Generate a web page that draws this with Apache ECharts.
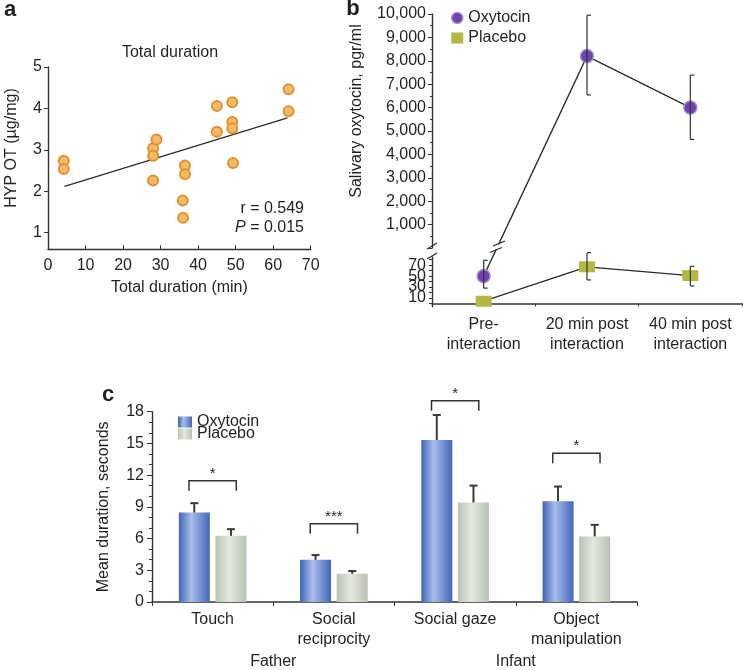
<!DOCTYPE html>
<html><head><meta charset="utf-8">
<script src="https://cdn.jsdelivr.net/npm/echarts@6/dist/echarts.min.js"></script>
<style>html,body{margin:0;padding:0;background:#fff}#c{width:743px;height:670px}</style>
</head><body><div id="c"></div>
<script>
// ---------- Panel a ----------
const scatterX = [4.2,4.2,28.0,28.0,28.9,28.0,36.5,36.5,35.9,36.0,45.0,45.0,49.1,49.1,49.1,49.3,64.1,64.1];
const scatterY = [2.74,2.54,3.04,2.86,3.25,2.26,2.62,2.41,1.78,1.36,4.06,3.44,4.15,3.67,3.52,2.68,4.46,3.93];
const fitX = [4.4, 63.8];
const fitY = [2.12, 3.77];
const aYLabels = [1,2,3,4,5];

// ---------- Panel b ----------
const bCategories = ['Pre-\ninteraction','20 min post\ninteraction','40 min post\ninteraction'];
const oxyHigh = ['-', 8200, 6000];
const oxyHighErrLow = ['-', 6540, 4640];
const oxyHighErrHigh = ['-', 9950, 7390];
const oxyLow = [50, '-', '-'];
const oxyLowErrLow = [28, '-', '-'];
const oxyLowErrHigh = [79, '-', '-'];
const placebo = [4, 67, 51];
const placeboErrLow = ['-', 43, 32];
const placeboErrHigh = ['-', 93, 68];
const bLowLabelsA = [10, 50];
const bLowLabelsB = [30, 70];
const bLowTicks = [0,10,20,30,40,50,60,70,80];

// ---------- Panel c ----------
const cCategories = ['Touch','Social\nreciprocity','Social gaze','Object\nmanipulation'];
const cGroups = ['Father','Infant'];
const oxyBars = [8.46, 3.99, 15.33, 9.54];
const oxyErr = [9.35, 4.44, 17.69, 10.92];
const placeboBars = [6.26, 2.67, 9.41, 6.2];
const placeboErr = [6.89, 2.93, 11.01, 7.3];
const sigY = [11.48, 7.39, 19.04, 14.07];
const sigLabels = ['*','***','*','*'];

const F = "'Liberation Sans', Arial, Helvetica, sans-serif";
const TXT = '#231f20';
const AX = '#333333';
const chart = echarts.init(document.getElementById('c'));

const lbl = (extra) => Object.assign({color: TXT, fontFamily: F, fontSize: 16}, extra || {});
const line = (w) => ({show: true, lineStyle: {color: AX, width: w || 1.4}});

const oxyGrad = new echarts.graphic.LinearGradient(0,0,1,0,[
  {offset:0,color:'#3f63b8'},{offset:0.4,color:'#a9bde8'},{offset:1,color:'#4466ba'}]);
const plaGrad = new echarts.graphic.LinearGradient(0,0,1,0,[
  {offset:0,color:'#b9c4b5'},{offset:0.45,color:'#e3e8e0'},{offset:1,color:'#b7c2b3'}]);

function errRight(params, api) {
  const x = api.value(0);
  const lo = api.coord([x, api.value(1)]);
  const hi = api.coord([x, api.value(2)]);
  const s = {stroke: '#333', lineWidth: 1.2};
  return {type: 'group', children: [
    {type:'line', shape:{x1:lo[0],y1:lo[1],x2:hi[0],y2:hi[1]}, style:s},
    {type:'line', shape:{x1:hi[0],y1:hi[1],x2:hi[0]+4,y2:hi[1]}, style:s},
    {type:'line', shape:{x1:lo[0],y1:lo[1],x2:lo[0]+4,y2:lo[1]}, style:s}
  ]};
}
function errT(sign) {
  return function(params, api) {
    const x = api.value(0);
    const w = api.size([1,0])[0];
    const off = sign * w * 0.1513;
    const b = api.coord([x, api.value(1)]);
    const t = api.coord([x, api.value(2)]);
    const s = {stroke: '#3a3a3a', lineWidth: 2};
    return {type:'group', children:[
      {type:'line', shape:{x1:b[0]+off,y1:b[1],x2:t[0]+off,y2:t[1]}, style:s},
      {type:'line', shape:{x1:t[0]+off-4,y1:t[1],x2:t[0]+off+4,y2:t[1]}, style:s}
    ]};
  };
}
function sigRender(params, api) {
  const x = api.value(0);
  const w = api.size([1,0])[0];
  const c = api.coord([x, api.value(1)]);
  const x1 = c[0] - w*0.195, x2 = c[0] + w*0.195, y = c[1];
  const s = {stroke:'#333', lineWidth:1.5, fill:null};
  return {type:'group', children:[
    {type:'polyline', shape:{points:[[x1,y+10],[x1,y],[x2,y],[x2,y+10]]}, style:s},
    {type:'text', x:(x1+x2)/2, y:y-7, style:{text: sigLabels[api.value(2)], fill:TXT, font:'15px '+F, align:'center', verticalAlign:'middle'}}
  ]};
}

const lowY = (labels, showLine) => ({gridIndex:2, type:'value', min:-6, max:85, position:'left',
  axisLine: showLine ? line() : {show:false}, splitLine:{show:false},
  axisTick: showLine ? {show:true, length:3, customValues: bLowTicks, lineStyle:{color:AX}} : {show:false},
  axisLabel: lbl({margin:6, customValues: labels, showMinLabel:true, showMaxLabel:true})});

const option = {
  animation: false,
  backgroundColor: '#fff',
  textStyle: {fontFamily: F},
  grid: [
    {left: 48, top: 67, width: 262.7, height: 182.3},
    {left: 432, top: 14, width: 310, height: 234},
    {left: 432, top: 257, width: 310, height: 49.7},
    {left: 152, top: 411.7, width: 485, height: 190.6}
  ],
  legend: [
    {left: 446, top: 5, orient: 'vertical', itemWidth: 12, itemHeight: 11, itemGap: 4, selectedMode: false,
     textStyle: lbl(),
     data: [{name:'Oxytocin', icon:'circle', itemStyle:{color:'#6a44ac', borderColor:'#a48ed6', borderWidth:1.5}},
            {name:'Placebo', icon:'rect', itemStyle:{color:'#b3b843', borderWidth:0}}]},
    {left: 173, top: 409, orient: 'vertical', itemWidth: 14, itemHeight: 11, itemGap: -4, selectedMode: false,
     textStyle: lbl(),
     data: [{name:'Oxytocin', icon:'rect', itemStyle:{color:oxyGrad, borderWidth:0}},
            {name:'Placebo', icon:'rect', itemStyle:{color:plaGrad, borderWidth:0}}]}
  ],
  xAxis: [
    {gridIndex:0, type:'value', min:0, max:70, interval:10, axisLine: line(),
     axisTick:{show:true, inside:true, length:4, lineStyle:{color:AX}}, splitLine:{show:false},
     axisLabel: lbl({margin:8}), name:'Total duration (min)', nameLocation:'middle', nameGap:30, nameTextStyle: lbl()},
    {gridIndex:1, type:'category', data: bCategories, show:false},
    {gridIndex:2, type:'category', data: bCategories, axisLine: line(1.6),
     axisTick:{show:true, length:3, lineStyle:{color:AX}}, axisLabel: lbl({margin:8, lineHeight:20, interval:0})},
    {gridIndex:3, type:'category', data: cCategories, axisLine: line(1.6),
     axisTick:{show:true, length:4, lineStyle:{color:AX}}, axisLabel: lbl({margin:8, lineHeight:20, interval:0})},
    {gridIndex:3, type:'category', data: cGroups, position:'bottom', axisLine:{show:false},
     axisTick:{show:false}, axisLabel: lbl({margin:52, interval:0})}
  ],
  yAxis: [
    {gridIndex:0, type:'value', min:0.6, max:5, axisLine: line(), splitLine:{show:false},
     axisTick:{show:true, length:4, customValues: aYLabels, lineStyle:{color:AX}},
     axisLabel: lbl({margin:6, customValues: aYLabels, showMinLabel:true, showMaxLabel:true})},
    {gridIndex:1, type:'value', min:0, max:10000, interval:1000, axisLine: line(), splitLine:{show:false},
     axisTick:{show:true, length:4, lineStyle:{color:AX}},
     minorTick:{show:true, splitNumber:2, length:2, lineStyle:{color:AX}},
     axisLabel: lbl({margin:6, showMinLabel:false, showMaxLabel:true, formatter: v => v === 0 ? '' : v.toLocaleString('en-US')})},
    lowY(bLowLabelsA, true),
    {gridIndex:3, type:'value', min:0, max:18, interval:3, axisLine: line(), splitLine:{show:false},
     axisTick:{show:true, length:5, lineStyle:{color:AX}},
     minorTick:{show:true, splitNumber:3, length:3, lineStyle:{color:AX}},
     axisLabel: lbl({margin:8}), name:'Mean duration, seconds', nameLocation:'middle', nameGap:40, nameTextStyle: lbl()},
    lowY(bLowLabelsB, false)
  ],
  series: [
    {name:'HYP', type:'scatter', xAxisIndex:0, yAxisIndex:0, symbolSize:10, z:4,
     itemStyle:{color:'#f6bb6a', borderColor:'#e3912e', borderWidth:2, opacity:1},
     data: scatterX.map((x,i)=>[x, scatterY[i]])},
    {name:'fit', type:'line', xAxisIndex:0, yAxisIndex:0, symbol:'none', z:3,
     lineStyle:{color:'#2b2b2b', width:1.3}, data: fitX.map((x,i)=>[x, fitY[i]])},
    {name:'Oxytocin', type:'line', xAxisIndex:1, yAxisIndex:1, symbol:'circle', symbolSize:13, z:4,
     lineStyle:{color:'#2b2b2b', width:1.3},
     itemStyle:{color:'#6a44ac', borderColor:'#a48ed6', borderWidth:1.5}, data: oxyHigh},
    {name:'Oxytocin', type:'scatter', xAxisIndex:2, yAxisIndex:2, symbol:'circle', symbolSize:13, z:4,
     itemStyle:{color:'#6a44ac', borderColor:'#a48ed6', borderWidth:1.5, opacity:1}, data: oxyLow},
    {name:'Placebo', type:'line', xAxisIndex:2, yAxisIndex:2, symbol:'rect', symbolSize:[16,11], z:4,
     lineStyle:{color:'#2b2b2b', width:1.3}, itemStyle:{color:'#b3b843'}, data: placebo},
    {name:'errHigh', type:'custom', xAxisIndex:1, yAxisIndex:1, z:5, renderItem: errRight,
     data: oxyHigh.map((v,i)=> v === '-' ? null : [i, oxyHighErrLow[i], oxyHighErrHigh[i]]).filter(d=>d)},
    {name:'errLow', type:'custom', xAxisIndex:2, yAxisIndex:2, z:5, renderItem: errRight, clip:false,
     data: oxyLow.map((v,i)=> v === '-' ? null : [i, oxyLowErrLow[i], oxyLowErrHigh[i]]).filter(d=>d)
       .concat(placebo.map((v,i)=> placeboErrLow[i] === '-' ? null : [i, placeboErrLow[i], placeboErrHigh[i]]).filter(d=>d))},
    {name:'Oxytocin', type:'bar', xAxisIndex:3, yAxisIndex:3, barWidth:31, barGap:'18%',
     itemStyle:{color: oxyGrad}, data: oxyBars},
    {name:'Placebo', type:'bar', xAxisIndex:3, yAxisIndex:3, barWidth:31, barGap:'18%',
     itemStyle:{color: plaGrad}, data: placeboBars},
    {name:'errC1', type:'custom', xAxisIndex:3, yAxisIndex:3, z:5, renderItem: errT(-1),
     data: oxyBars.map((v,i)=>[i, v, oxyErr[i]])},
    {name:'errC2', type:'custom', xAxisIndex:3, yAxisIndex:3, z:5, renderItem: errT(1),
     data: placeboBars.map((v,i)=>[i, v, placeboErr[i]])},
    {name:'sig', type:'custom', xAxisIndex:3, yAxisIndex:3, z:5, renderItem: sigRender, clip:false,
     data: sigY.map((v,i)=>[i, v, i])}
  ]
};
chart.setOption(option);

// static and computed graphics
const tx = (x, y, text, extra, rot) => Object.assign({type:'text', x, y, rotation: rot || 0,
  style: Object.assign({text, fill: TXT, font: '16px ' + F, align:'center', verticalAlign:'middle'}, extra || {})});
const g = [
  tx(10, 10, 'a', {font:'bold 22px ' + F}),
  tx(353, 9, 'b', {font:'bold 22px ' + F}),
  tx(108, 395, 'c', {font:'bold 22px ' + F}),
  tx(170, 53, 'Total duration'),
  tx(304, 209, 'r = 0.549', {align:'right'}),
  tx(304, 228, '{it|P} = 0.015', {align:'right', rich:{it:{fontStyle:'italic', font:'italic 16px ' + F, fill: TXT}}}),
  tx(12, 148, 'HYP OT (\u00b5g/mg)', {}, Math.PI/2),
  tx(357, 111, 'Salivary oxytocin, pgr/ml', {}, Math.PI/2)
];
// axis break marks on the y-axis of panel b
const yAxisX = 432;
g.push({type:'line', shape:{x1:yAxisX-5,y1:249,x2:yAxisX+5,y2:243}, style:{stroke:AX, lineWidth:1.3}});
g.push({type:'line', shape:{x1:yAxisX-5,y1:259,x2:yAxisX+5,y2:253}, style:{stroke:AX, lineWidth:1.3}});
// cross-section connecting line for oxytocin
const p1 = chart.convertToPixel({xAxisIndex:2, yAxisIndex:2}, [0, oxyLow[0]]);
const p2 = chart.convertToPixel({xAxisIndex:1, yAxisIndex:1}, [1, oxyHigh[1]]);
g.push({type:'line', z: 3, shape:{x1:p1[0],y1:p1[1],x2:p2[0],y2:p2[1]}, style:{stroke:'#2b2b2b', lineWidth:1.3}});
const xAt = (y) => p1[0] + (p1[1]-y)/(p1[1]-p2[1])*(p2[0]-p1[0]);
g.push({type:'line', z: 4, shape:{x1:xAt(244.5),y1:244.5,x2:xAt(249.5),y2:249.5}, style:{stroke:'#fff', lineWidth:5}});
[243.5, 250].forEach(y => {
  const x = xAt(y);
  g.push({type:'line', z: 5, shape:{x1:x-6,y1:y+2.5,x2:x+6,y2:y-2.5}, style:{stroke:'#2b2b2b', lineWidth:1.3}});
});
chart.setOption({graphic: g});
</script></body></html>
